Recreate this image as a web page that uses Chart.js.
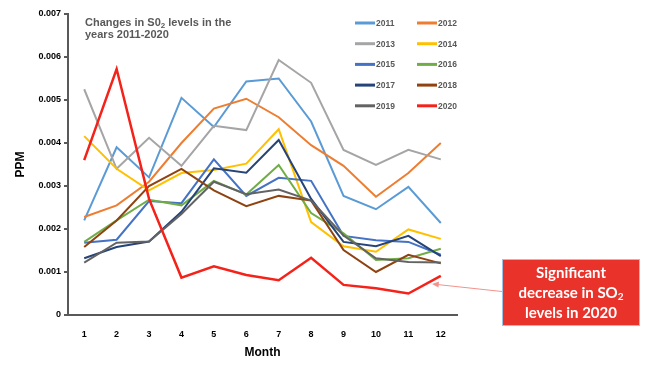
<!DOCTYPE html>
<html>
<head>
<meta charset="utf-8">
<script src="https://cdn.jsdelivr.net/npm/chart.js@4.4.1/dist/chart.umd.min.js"></script>
<style>
  body { margin: 0; background: #fff; }
  #wrap { width: 650px; height: 370px; }
</style>
</head>
<body>
<div id="wrap"><canvas id="so2Chart" width="650" height="370"></canvas></div>
<script>
// months on the x axis
const months = ["1", "2", "3", "4", "5", "6", "7", "8", "9", "10", "11", "12"];
const years = ["2011", "2012", "2013", "2014", "2015", "2016", "2017", "2018", "2019", "2020"];
const yTicks = [0, 0.001, 0.002, 0.003, 0.004, 0.005, 0.006, 0.007];

// SO2 levels (ppm)
const so2_2011 = [0.00220, 0.00390, 0.00320, 0.00505, 0.00437, 0.00543, 0.00550, 0.00450, 0.00277, 0.00246, 0.00298, 0.00214];
const so2_2012 = [0.00228, 0.00255, 0.00310, 0.00400, 0.00480, 0.00503, 0.00460, 0.00395, 0.00347, 0.00275, 0.00330, 0.00400];
const so2_2013 = [0.00525, 0.00340, 0.00412, 0.00347, 0.00440, 0.00430, 0.00593, 0.00540, 0.00384, 0.00349, 0.00384, 0.00362];
const so2_2014 = [0.00416, 0.00340, 0.00290, 0.00330, 0.00337, 0.00352, 0.00432, 0.00216, 0.00160, 0.00147, 0.00199, 0.00177];
const so2_2015 = [0.00168, 0.00175, 0.00265, 0.00260, 0.00362, 0.00277, 0.00319, 0.00312, 0.00184, 0.00174, 0.00170, 0.00140];
const so2_2016 = [0.00170, 0.00220, 0.00268, 0.00255, 0.00312, 0.00280, 0.00349, 0.00237, 0.00190, 0.00128, 0.00132, 0.00154];
const so2_2017 = [0.00132, 0.00158, 0.00171, 0.00240, 0.00341, 0.00331, 0.00407, 0.00270, 0.00170, 0.00160, 0.00184, 0.00137];
const so2_2018 = [0.00158, 0.00220, 0.00300, 0.00340, 0.00290, 0.00253, 0.00277, 0.00266, 0.00151, 0.00100, 0.00140, 0.00120];
const so2_2019 = [0.00122, 0.00168, 0.00171, 0.00235, 0.00310, 0.00281, 0.00292, 0.00266, 0.00185, 0.00132, 0.00123, 0.00122];
const so2_2020 = [0.00360, 0.00572, 0.00270, 0.00087, 0.00113, 0.00093, 0.00081, 0.00133, 0.00070, 0.00062, 0.00050, 0.00091];

const seriesValues = [so2_2011, so2_2012, so2_2013, so2_2014, so2_2015, so2_2016, so2_2017, so2_2018, so2_2019, so2_2020];
const lineColors = ["#5B9BD5", "#ED7D31", "#A5A5A5", "#FFC000", "#4472C4", "#70AD47", "#264478", "#8E4310", "#636363", "#F5221A"];

const datasets = years.map((y, i) => ({
    label: y,
    data: seriesValues[i],
    borderColor: lineColors[i],
    backgroundColor: lineColors[i],
    borderWidth: i === 9 ? 2.5 : 2,
    pointRadius: 0,
    tension: 0,
    order: years.length - i
}));

// title, two-column legend and the red note, drawn on top
const extras = {
    id: "extras",
    afterDraw(chart) {
        const ctx = chart.ctx;
        ctx.save();

        // title
        ctx.fillStyle = "#595959";
        ctx.textBaseline = "middle";
        ctx.textAlign = "left";
        ctx.font = "bold 11px 'Liberation Sans', Arial, sans-serif";
        let x = 85;
        const t1 = "Changes in S0";
        ctx.fillText(t1, x, 23);
        x += ctx.measureText(t1).width;
        ctx.font = "bold 8px 'Liberation Sans', Arial, sans-serif";
        ctx.fillText("2", x, 26);
        x += ctx.measureText("2").width;
        ctx.font = "bold 11px 'Liberation Sans', Arial, sans-serif";
        ctx.fillText(" levels in the", x, 23);
        ctx.fillText("years 2011-2020", 85, 35);

        // legend
        ctx.font = "bold 8.5px 'Liberation Sans', Arial, sans-serif";
        chart.data.datasets.forEach((ds, i) => {
            const col = i % 2;
            const row = Math.floor(i / 2);
            const lx = col === 0 ? 355 : 417;
            const ly = 23 + row * 20.7;
            ctx.strokeStyle = ds.borderColor;
            ctx.lineWidth = 3;
            ctx.beginPath();
            ctx.moveTo(lx, ly);
            ctx.lineTo(lx + 20, ly);
            ctx.stroke();
            ctx.fillStyle = "#595959";
            ctx.fillText(ds.label, lx + 21, ly + 0.5);
        });

        // arrow to the 2020 line
        ctx.strokeStyle = "#F2928C";
        ctx.fillStyle = "#F2928C";
        ctx.lineWidth = 1;
        ctx.beginPath();
        ctx.moveTo(502, 291.5);
        ctx.lineTo(438, 284.6);
        ctx.stroke();
        ctx.beginPath();
        ctx.moveTo(432, 284);
        ctx.lineTo(439, 281.5);
        ctx.lineTo(438.5, 287.5);
        ctx.closePath();
        ctx.fill();

        // note box
        ctx.fillStyle = "#E8322A";
        ctx.fillRect(502, 259, 138, 66);
        ctx.strokeStyle = "#9DC3E6";
        ctx.lineWidth = 1;
        ctx.strokeRect(502.5, 259.5, 137, 66);

        ctx.fillStyle = "#FFFFFF";
        ctx.textAlign = "center";
        ctx.font = "bold 15px Lato, 'Open Sans', sans-serif";
        ctx.fillText("Significant", 571, 273);
        ctx.fillText("levels in 2020", 571, 313);
        const a = "decrease in SO";
        const wa = ctx.measureText(a).width;
        ctx.font = "bold 10px Lato, 'Open Sans', sans-serif";
        const wb = ctx.measureText("2").width;
        const sx = 571 - (wa + wb) / 2;
        ctx.textAlign = "left";
        ctx.font = "bold 15px Lato, 'Open Sans', sans-serif";
        ctx.fillText(a, sx, 293);
        ctx.font = "bold 10px Lato, 'Open Sans', sans-serif";
        ctx.fillText("2", sx + wa, 297);

        ctx.restore();
    }
};

new Chart("so2Chart", {
    type: "line",
    data: {
        labels: months,
        datasets: datasets
    },
    plugins: [extras],
    options: {
        responsive: false,
        animation: false,
        layout: { padding: { top: 14, right: 193, left: 0, bottom: 0 } },
        plugins: {
            legend: { display: false },
            tooltip: { enabled: false }
        },
        scales: {
            x: {
                offset: true,
                grid: { display: false },
                border: { display: true, color: "#595959", width: 2 },
                ticks: {
                    color: "#000",
                    padding: 6,
                    font: { family: "'Liberation Sans', Arial", size: 9, weight: "bold" }
                },
                title: {
                    display: true,
                    text: "Month",
                    color: "#000",
                    padding: { top: 0, bottom: 10 },
                    font: { family: "'Liberation Sans', Arial", size: 12, weight: "bold" }
                },
                afterFit(scale) { scale.height = 55; }
            },
            y: {
                min: 0,
                max: 0.007,
                afterBuildTicks(scale) { scale.ticks = yTicks.map(v => ({ value: v })); },
                grid: { display: true, drawOnChartArea: false, drawTicks: true, tickLength: 4, color: "#595959", lineWidth: 2 },
                border: { display: true, color: "#595959", width: 2 },
                ticks: {
                    color: "#000",
                    padding: 3,
                    font: { family: "'Liberation Sans', Arial", size: 9, weight: "bold" },
                    callback: v => v === 0 ? "0" : v.toFixed(3)
                },
                title: {
                    display: true,
                    text: "PPM",
                    color: "#000",
                    padding: { top: 13, bottom: 0 },
                    font: { family: "'Liberation Sans', Arial", size: 12, weight: "bold" }
                },
                afterFit(scale) { scale.width = 68; }
            }
        }
    }
});
</script>
</body>
</html>
